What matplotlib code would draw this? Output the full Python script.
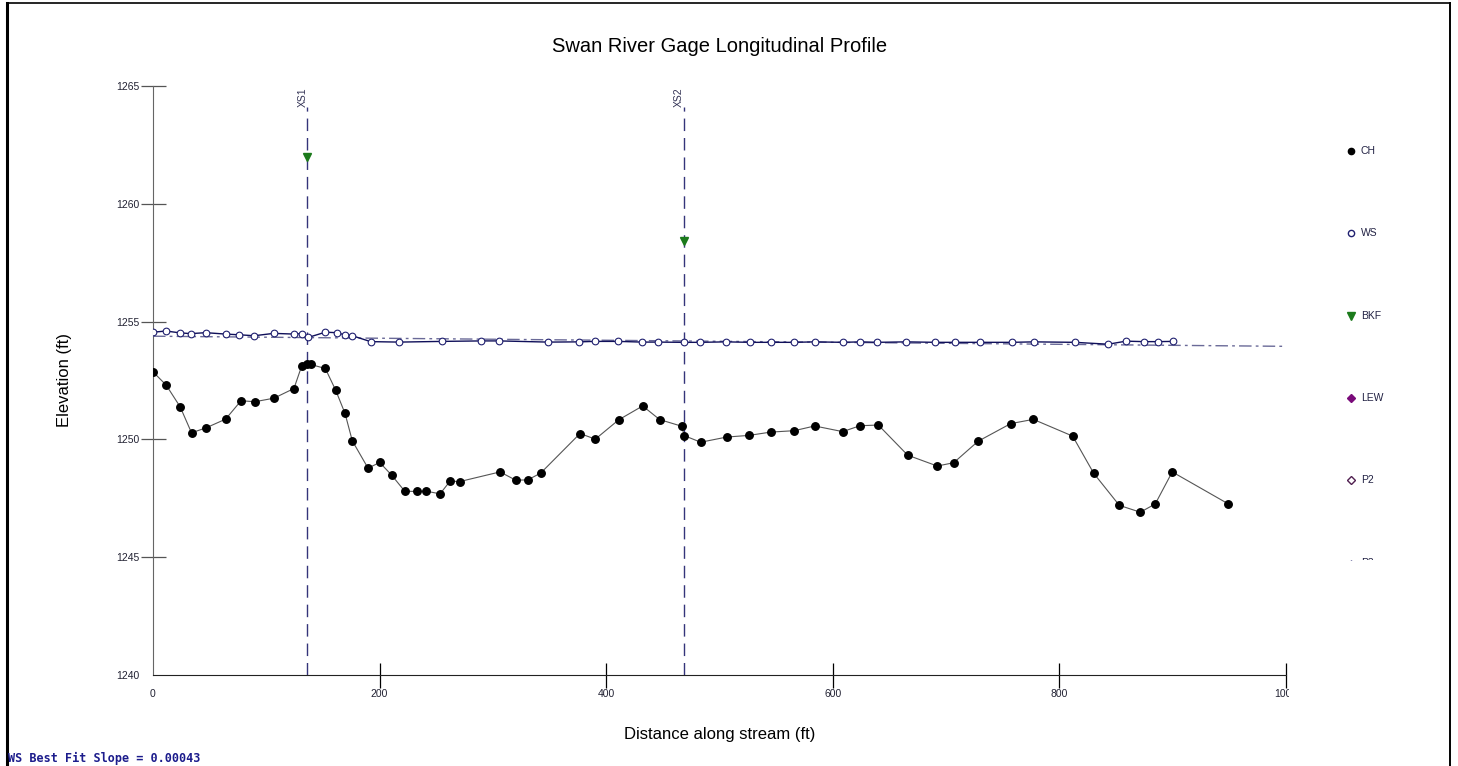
"""
Swan River gage longitudinal profile
"""

import matplotlib.pyplot as plt
from matplotlib.transforms import Bbox, TransformedBbox
from matplotlib.lines import Line2D

plt.rcParams['font.family'] = ['Liberation Sans', 'DejaVu Sans']

# channel bed (CH)
ch_dist = [0, 11.7, 24.0, 34.0, 46.8, 64.1, 77.7, 90.0, 106.8, 124.4,
           131.2, 136.2, 139.2, 152.1, 161.3, 169.5, 175.9, 189.8, 200.1, 210.7,
           222.2, 233.3, 241.3, 253.4, 262.2, 270.7, 306.3, 320.1, 330.7, 342.2,
           376.9, 390.4, 411.0, 432.2, 447.2, 466.6, 468.9, 483.4, 506.4, 526.0,
           545.2, 566.0, 584.0, 608.7, 624.0, 640.2, 666.1, 692.2, 706.7, 728.2,
           757.0, 777.0, 811.7, 830.3, 852.9, 871.4, 884.6, 899.6, 948.8]
ch_elev = [1252.87, 1252.30, 1251.38, 1250.28, 1250.49, 1250.86, 1251.64, 1251.60, 1251.75, 1252.16,
           1253.11, 1253.22, 1253.18, 1253.01, 1252.08, 1251.10, 1249.94, 1248.78, 1249.02, 1248.48,
           1247.80, 1247.79, 1247.80, 1247.69, 1248.23, 1248.21, 1248.62, 1248.27, 1248.28, 1248.57,
           1250.25, 1250.01, 1250.83, 1251.42, 1250.84, 1250.56, 1250.16, 1249.88, 1250.10, 1250.17,
           1250.31, 1250.37, 1250.57, 1250.33, 1250.58, 1250.61, 1249.33, 1248.87, 1249.01, 1249.92,
           1250.67, 1250.85, 1250.14, 1248.56, 1247.20, 1246.91, 1247.26, 1248.62, 1247.27]

# water surface (WS)
ws_dist = [0, 11.5, 24.1, 33.5, 46.5, 64.2, 76.2, 89.4, 106.5, 124.7,
           131.8, 137.1, 152.1, 162.1, 169.2, 175.9, 192.1, 217.4, 255.1, 289.8,
           305.6, 348.9, 376.3, 389.8, 410.7, 431.9, 446.0, 468.3, 483.1, 505.8,
           527.3, 545.8, 566.0, 583.9, 609.2, 624.4, 639.1, 665.0, 690.6, 707.9,
           729.6, 758.6, 777.5, 813.8, 843.1, 858.8, 874.3, 887.0, 900.4]
ws_elev = [1254.55, 1254.60, 1254.52, 1254.49, 1254.53, 1254.47, 1254.44, 1254.40, 1254.50, 1254.47,
           1254.49, 1254.33, 1254.55, 1254.53, 1254.44, 1254.40, 1254.15, 1254.13, 1254.16, 1254.18,
           1254.18, 1254.13, 1254.14, 1254.16, 1254.16, 1254.13, 1254.13, 1254.12, 1254.12, 1254.14,
           1254.12, 1254.12, 1254.12, 1254.14, 1254.12, 1254.14, 1254.12, 1254.14, 1254.12, 1254.12,
           1254.12, 1254.12, 1254.14, 1254.12, 1254.04, 1254.17, 1254.15, 1254.15, 1254.16]

# WS best fit line
fit_dist = [0, 1000]
fit_elev = [1254.38, 1253.95]

# cross sections and bankfull
xs_dist = [136.2, 468.6]
xs_names = ['XS1', 'XS2']
bkf_elev = [1262.0, 1258.4]

legend_names = ['CH', 'WS', 'BKF', 'LEW', 'P2', 'P3']

W, H = 1458, 766
fig = plt.figure(figsize=(W / 100, H / 100), dpi=100)


def box(l, t, r, b):
    return [l / W, 1 - b / H, (r - l) / W, (b - t) / H]


ax = fig.add_axes(box(153, 86, 1286, 675))
ax.set_xlim(0, 1000)
ax.set_ylim(1240, 1265)

ax.plot(fit_dist, fit_elev, color='#6a6a98', lw=1.0, dashes=(9, 3, 2, 3), zorder=3)
ax.plot(ch_dist, ch_elev, color='#555555', lw=0.8, marker='o', ms=5.4,
        mfc='black', mec='black', zorder=4)
ax.plot(ws_dist, ws_elev, color='#10105a', lw=1.0, marker='o', ms=4.8,
        mfc='white', mec='#202070', mew=0.8, zorder=5)

top = 1264.1
for x, name, b in zip(xs_dist, xs_names, bkf_elev):
    ax.axvline(x, ymin=0, ymax=(top - 1240) / 25, color='#34347a', lw=1.0,
               dashes=(9, 5), zorder=2)
    ax.text(x, top, name, rotation=90, ha='right', va='bottom', fontsize=7.5,
            color='#333355')
    ax.plot(x, b, marker='v', ms=6, color='#1b7a1b', ls='none', zorder=6)

ax.set_xticks([0, 200, 400, 600, 800, 1000])
ax.set_yticks([1240, 1245, 1250, 1255, 1260, 1265])
for s in ['top', 'right']:
    ax.spines[s].set_visible(False)
ax.spines['left'].set_color('#666666')
ax.spines['bottom'].set_color('#222222')
ax.tick_params(direction='inout', length=18, width=0.9, labelsize=7.5,
               labelcolor='#222233', pad=1)
ax.tick_params(axis='y', colors='#555555', labelcolor='#222233')
ax.xaxis.get_major_ticks()[0].tick1line.set_visible(False)
ax.yaxis.get_major_ticks()[0].tick1line.set_visible(False)

# the last x label is cut at the plot edge
clip = TransformedBbox(Bbox.from_extents(0, 0, 1289 / W, 1), fig.transFigure)
for lab in ax.get_xticklabels():
    lab.set_clip_box(clip)
    lab.set_clip_on(True)

fig.text(719.5 / W, 1 - 47 / H, 'Swan River Gage Longitudinal Profile',
         ha='center', va='center', fontsize=14.5)
fig.text(719.5 / W, 1 - 735 / H, 'Distance along stream (ft)',
         ha='center', va='center', fontsize=12)
fig.text(65 / W, 1 - 380 / H, 'Elevation (ft)', rotation=90,
         ha='center', va='center', fontsize=12)
fig.text(8 / W, 1 - 758 / H, 'WS Best Fit Slope = 0.00043',
         family='DejaVu Sans Mono', weight='bold', fontsize=8.5,
         color='#1c1c8c', ha='left', va='center')

# legend panel, cut off at its bottom
lax = fig.add_axes(box(1290, 120, 1440, 560))
lax.set_xlim(1290, 1440)
lax.set_ylim(560, 120)
lax.axis('off')
leg_y = [151, 233, 316, 398, 480, 563]
leg_style = [dict(marker='o', mfc='black', mec='black', ms=4.5),
             dict(marker='o', mfc='white', mec='#202070', ms=4.5),
             dict(marker='v', mfc='#1b7a1b', mec='#1b7a1b', ms=6),
             dict(marker='D', mfc='#7a0a7a', mec='#7a0a7a', ms=4),
             dict(marker='D', mfc='white', mec='#502050', ms=4),
             dict(marker='+', mec='#202070', ms=4)]
for name, y, st in zip(legend_names, leg_y, leg_style):
    lax.plot(1351, y, ls='none', **st)
    lax.text(1361, y, name, va='center', fontsize=7.5, color='#222244', clip_on=True)

# border around the figure
fig.add_artist(Line2D([7 / W, 7 / W], [0, 1 - 3 / H], color='black', lw=2.2))
fig.add_artist(Line2D([7 / W, 1450 / W], [1 - 3 / H, 1 - 3 / H], color='black', lw=1.2))
fig.add_artist(Line2D([1450 / W, 1450 / W], [0, 1 - 3 / H], color='black', lw=1.4))

fig.savefig('out.png', dpi=100)
plt.close(fig)
